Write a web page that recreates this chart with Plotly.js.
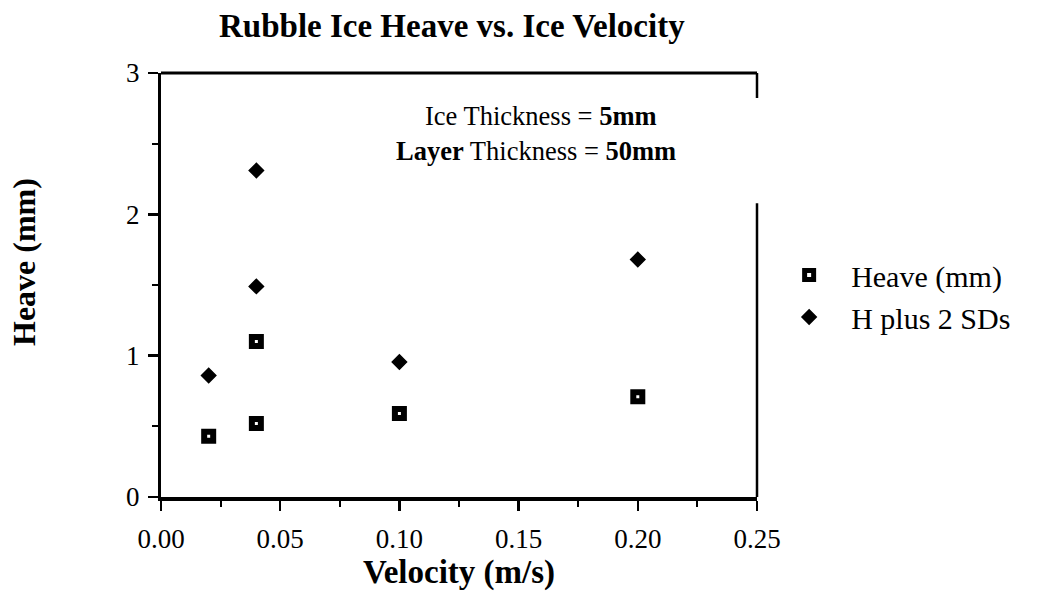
<!DOCTYPE html>
<html>
<head>
<meta charset="utf-8">
<script src="https://cdn.plot.ly/plotly-3.0.1.min.js"></script>
<style>html,body{margin:0;padding:0;background:#fff;}#chart{width:1039px;height:592px;}</style>
</head>
<body>
<div id="chart"></div>
<script>
// Data
const velocity = [0.02, 0.04, 0.04, 0.10, 0.20];
const heave = [0.43, 0.52, 1.10, 0.59, 0.71];
const hPlus2SD = [0.86, 2.31, 1.49, 0.955, 1.68];
const seriesNames = ['Heave (mm)', 'H plus 2 SDs'];
const chartTitle = 'Rubble Ice Heave vs. Ice Velocity';
const xTitle = 'Velocity (m/s)';
const yTitle = 'Heave (mm)';
const noteLines = ['Ice Thickness = <b>5mm</b>', '<b>Layer</b> Thickness = <b>50mm</b>'];

const serif = 'Liberation Serif, Times New Roman, serif';

const traces = [
  {
    x: velocity, y: heave, name: seriesNames[0], type: 'scatter', mode: 'markers',
    marker: {symbol: 'square', size: 9, color: '#fff', line: {color: '#000', width: 6}}
  },
  {
    x: velocity, y: hPlus2SD, name: seriesNames[1], type: 'scatter', mode: 'markers',
    marker: {symbol: 'diamond', size: 11, color: '#000', line: {color: '#000', width: 1.5}}
  }
];

const layout = {
  width: 1039, height: 592,
  paper_bgcolor: '#fff', plot_bgcolor: '#fff',
  margin: {l: 161, r: 282, t: 73, b: 95},
  font: {family: serif, color: '#000'},
  title: {
    text: '<b>' + chartTitle + '</b>',
    font: {family: serif, size: 33, color: '#000'},
    xref: 'paper', x: 0.488, xanchor: 'center',
    yref: 'container', y: 1 - 25/592, yanchor: 'middle'
  },
  xaxis: {
    range: [0, 0.25], dtick: 0.05, tick0: 0, tickformat: '.2f',
    showline: true, linewidth: 3.5, linecolor: '#000',
    showgrid: false, zeroline: false,
    ticks: 'outside', ticklen: 10, tickwidth: 2.5, tickcolor: '#000',
    minor: {dtick: 0.025, ticks: 'outside', ticklen: 6, tickwidth: 2, tickcolor: '#000', showgrid: false},
    tickfont: {family: serif, size: 27, color: '#000'},
    ticklabelstandoff: 5,
    title: {text: '<b>' + xTitle + '</b>', font: {family: serif, size: 33, color: '#000'}, standoff: 2},
    automargin: false, fixedrange: true
  },
  yaxis: {
    range: [0, 3], dtick: 1, tick0: 0,
    showline: true, linewidth: 3, linecolor: '#000',
    showgrid: false, zeroline: false,
    ticks: 'outside', ticklen: 10, tickwidth: 2.5, tickcolor: '#000',
    minor: {dtick: 0.5, ticks: 'outside', ticklen: 6, tickwidth: 2, tickcolor: '#000', showgrid: false},
    tickfont: {family: serif, size: 27, color: '#000'},
    ticklabelstandoff: 3,
    automargin: false, fixedrange: true
  },
  showlegend: true,
  legend: {
    x: 1.017, xanchor: 'left', y: 0.585, yanchor: 'top',
    font: {family: serif, size: 30, color: '#000'},
    itemwidth: 74, bgcolor: 'rgba(0,0,0,0)', borderwidth: 0,
    tracegroupgap: 0
  },
  shapes: [
    {type: 'line', xref: 'paper', yref: 'paper', x0: 0, x1: 1, y0: 1, y1: 1, line: {color: '#000', width: 3}},
    {type: 'line', xref: 'paper', yref: 'paper', x0: 1, x1: 1, y0: 0, y1: 0.693, line: {color: '#000', width: 2.5}},
    {type: 'line', xref: 'paper', yref: 'paper', x0: 1, x1: 1, y0: 0.941, y1: 1, line: {color: '#000', width: 2.5}}
  ],
  annotations: [
    {text: noteLines[0], xref: 'paper', yref: 'paper', x: 0.6376, y: 0.8986, xanchor: 'center', yanchor: 'middle',
     showarrow: false, font: {family: serif, size: 26.5, color: '#000'}},
    {text: noteLines[1], xref: 'paper', yref: 'paper', x: 0.629, y: 0.816, xanchor: 'center', yanchor: 'middle',
     showarrow: false, font: {family: serif, size: 26.5, color: '#000'}},
    {text: '<b>' + yTitle + '</b>', xref: 'paper', yref: 'paper', x: (24 - 161) / 596, y: (497 - 262) / 424,
     xanchor: 'center', yanchor: 'middle', textangle: -90, showarrow: false,
     font: {family: serif, size: 32, color: '#000'}}
  ]
};

Plotly.newPlot('chart', traces, layout, {displayModeBar: false, staticPlot: true});
</script>
</body>
</html>
